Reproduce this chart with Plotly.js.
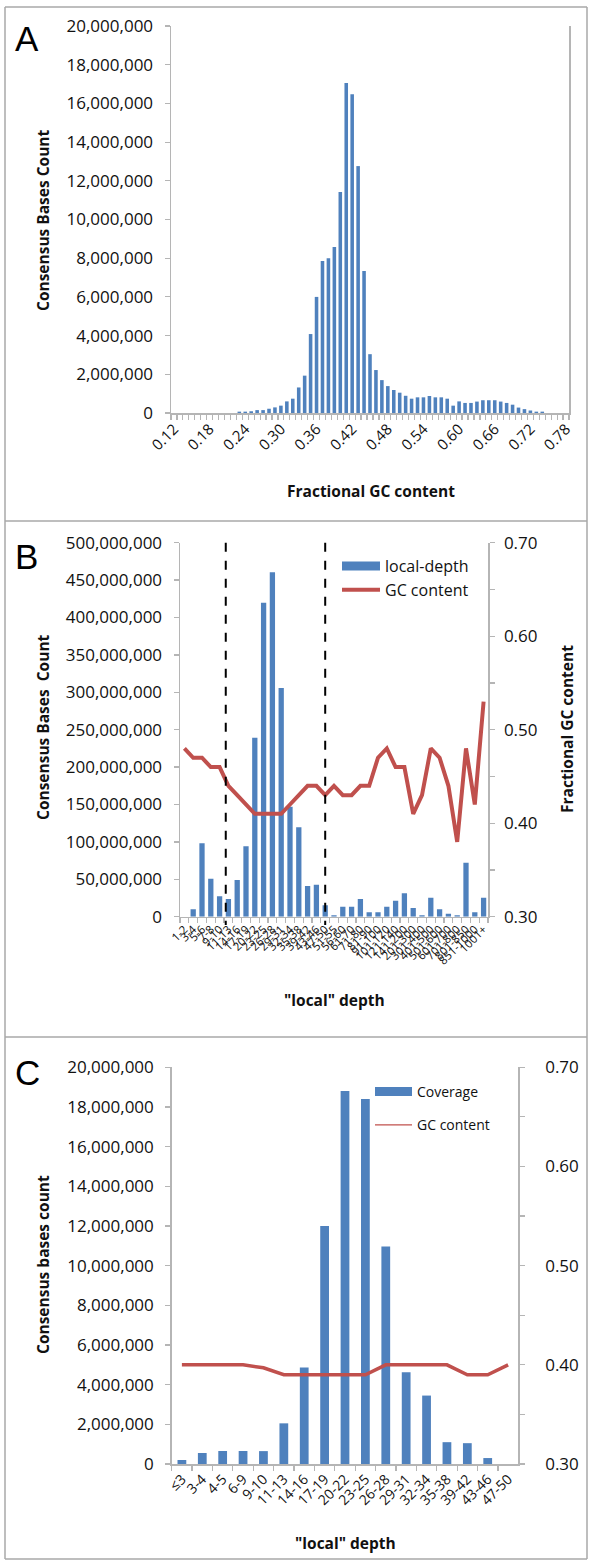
<!DOCTYPE html>
<html>
<head>
<meta charset="utf-8">
<script src="https://cdn.plot.ly/plotly-3.0.1.min.js"></script>
<style>
  html, body { margin: 0; padding: 0; background: #ffffff; }
  #chart { width: 590px; height: 1564px; }
</style>
</head>
<body>
<div id="chart"></div>
<script>
// ---- Panel A: consensus bases per fractional GC bin ----
const gcBins = ['0.12','0.13','0.14','0.15','0.16','0.17','0.18','0.19','0.20','0.21',
  '0.22','0.23','0.24','0.25','0.26','0.27','0.28','0.29','0.30','0.31',
  '0.32','0.33','0.34','0.35','0.36','0.37','0.38','0.39','0.40','0.41',
  '0.42','0.43','0.44','0.45','0.46','0.47','0.48','0.49','0.50','0.51',
  '0.52','0.53','0.54','0.55','0.56','0.57','0.58','0.59','0.60','0.61',
  '0.62','0.63','0.64','0.65','0.66','0.67','0.68','0.69','0.70','0.71',
  '0.72','0.73','0.74','0.75','0.76','0.77','0.78'];
const gcBaseCounts = [0,0,0,0,0,0,0,0,0,0,
  0,70000,70000,90000,150000,150000,220000,290000,380000,600000,
  740000,1320000,1930000,4080000,6000000,7860000,8000000,8580000,11420000,17060000,
  16470000,12760000,7340000,3040000,2220000,1700000,1390000,1190000,1050000,890000,
  740000,810000,810000,880000,810000,810000,740000,380000,600000,520000,
  520000,590000,660000,660000,660000,590000,520000,430000,280000,200000,
  130000,70000,70000,0,0,0,0];

// ---- Panel B: "local" depth bins with GC content ----
const depthBins = ['1-2','3-4','5-6','7-8','9-10','11-13','14-16','17-19','20-22','23-25',
  '26-28','29-31','32-34','35-38','39-42','43-46','47-50','51-55','56-60','61-70',
  '71-80','81-90','91-100','101-120','121-140','141-200','201-300','301-400','401-500','501-600',
  '601-700','701-800','801-850','851-1000','1001+'];
const depthBaseCounts = [0,9900000,98100000,50800000,27200000,23700000,49100000,94100000,239300000,419800000,
  460400000,305700000,147000000,119500000,41000000,42800000,15200000,1800000,13400000,13400000,
  23700000,5800000,5800000,13400000,21400000,31300000,11600000,1800000,25400000,9900000,
  4000000,1800000,72200000,5800000,25400000];
const depthGC = [0.48,0.47,0.47,0.46,0.46,0.44,0.43,0.42,0.41,0.41,
  0.41,0.41,0.42,0.43,0.44,0.44,0.43,0.44,0.43,0.43,
  0.44,0.44,0.47,0.48,0.46,0.46,0.41,0.43,0.48,0.47,
  0.44,0.38,0.48,0.42,0.53];

// ---- Panel C: coverage bins with GC content ----
const coverageBins = ['\u22643','3-4','4-5','6-9','9-10','11-13','14-16','17-19','20-22','23-25',
  '26-28','29-31','32-34','35-38','39-42','43-46','47-50'];
const coverageBaseCounts = [200000,550000,650000,650000,650000,2050000,4860000,12000000,18800000,18400000,
  10970000,4630000,3450000,1100000,1050000,300000,0];
const coverageGC = [0.40,0.40,0.40,0.40,0.397,0.39,0.39,0.39,0.39,0.39,
  0.40,0.40,0.40,0.40,0.39,0.39,0.40];

const gcTickLabels = ['0.30','','0.40','','0.50','','0.60','','0.70'];
const gcTickValues = [0.30,0.35,0.40,0.45,0.50,0.55,0.60,0.65,0.70];

// ---- styling ----
const W = 590, H = 1564;
const fx = px => px / W;
const fy = py => 1 - py / H;
const BLUE = '#4F81BD';
const RED = '#C0504D';
const AXIS = '#b5b5b5';
const FONT = 'Open Sans, sans-serif';
const TXT = '#111111';

// dashed guides in panel B, in category units
const guideA = 4.7, guideB = 16.0;

function catAxis(domain, anchor, size, cats, labels) {
  return {
    domain: domain, anchor: anchor, type: 'category',
    tickmode: 'array', tickvals: cats, ticktext: labels || cats,
    range: [-0.5, cats.length - 0.5],
    showline: true, linecolor: AXIS, linewidth: 1.5,
    ticks: 'outside', ticklen: 5, tickwidth: 1.2, tickcolor: AXIS,
    tickson: 'boundaries', tickangle: -45,
    tickfont: {family: FONT, size: size, color: TXT},
    showgrid: false, zeroline: false, fixedrange: true
  };
}
function valAxis(domain, anchor, range, dtick, extra) {
  return Object.assign({
    domain: domain, anchor: anchor, range: range, dtick: dtick, tick0: 0,
    tickformat: ',d',
    showline: true, linecolor: AXIS, linewidth: 1.5,
    ticks: 'outside', ticklen: 5, tickwidth: 1.2, tickcolor: AXIS,
    ticklabelstandoff: 8,
    tickfont: {family: FONT, size: 17, color: TXT},
    showgrid: false, zeroline: false, fixedrange: true
  }, extra || {});
}
function gcAxis(domain, anchor, overlay, standoff) {
  return {
    domain: domain, anchor: anchor, overlaying: overlay, side: 'right',
    range: [0.3, 0.7], tickmode: 'array', tickvals: gcTickValues, ticktext: gcTickLabels,
    showline: true, linecolor: AXIS, linewidth: 1.5,
    ticks: 'outside', ticklen: 5, tickwidth: 1.2, tickcolor: AXIS,
    ticklabelstandoff: standoff,
    tickfont: {family: FONT, size: 17, color: TXT},
    showgrid: false, zeroline: false, fixedrange: true
  };
}

const traces = [
  // A
  {type: 'bar', x: gcBins, y: gcBaseCounts, xaxis: 'x', yaxis: 'y',
   width: 0.6, marker: {color: BLUE}, showlegend: false, hoverinfo: 'x+y'},
  // B
  {type: 'bar', x: depthBins, y: depthBaseCounts, xaxis: 'x2', yaxis: 'y2',
   width: 0.6, marker: {color: BLUE}, showlegend: false, hoverinfo: 'x+y'},
  {type: 'scatter', mode: 'lines', x: [null], y: [null], xaxis: 'x2', yaxis: 'y2',
   name: 'local-depth', line: {color: BLUE, width: 9}, legend: 'legend', hoverinfo: 'skip'},
  {type: 'scatter', mode: 'lines', x: depthBins, y: depthGC, xaxis: 'x2', yaxis: 'y3',
   name: 'GC content', line: {color: RED, width: 4}, legend: 'legend'},
  // C
  {type: 'bar', x: coverageBins, y: coverageBaseCounts, xaxis: 'x3', yaxis: 'y4',
   width: 0.43, marker: {color: BLUE}, showlegend: false, hoverinfo: 'x+y'},
  {type: 'scatter', mode: 'lines', x: [null], y: [null], xaxis: 'x3', yaxis: 'y4',
   name: 'Coverage', line: {color: BLUE, width: 9}, legend: 'legend2', legendgroup: 'c1', hoverinfo: 'skip'},
  {type: 'scatter', mode: 'lines', x: coverageBins, y: coverageGC, xaxis: 'x3', yaxis: 'y5',
   line: {color: RED, width: 3.5}, showlegend: false},
  {type: 'scatter', mode: 'lines', x: [null], y: [null], xaxis: 'x3', yaxis: 'y5',
   name: 'GC content', line: {color: RED, width: 1.2}, legend: 'legend2', legendgroup: 'c2', hoverinfo: 'skip'}
];

const gcLabelsEvery6 = gcBins.map((b, i) => (i % 6 === 0 ? b : ''));

const titleFont = {family: FONT, size: 15.5, color: TXT, weight: 'bold'};
function ann(text, x, y, extra) {
  return Object.assign({text: text, xref: 'paper', yref: 'paper', x: fx(x), y: fy(y),
    xanchor: 'center', yanchor: 'middle', showarrow: false, font: titleFont}, extra || {});
}
function letter(t, y) {
  return {text: t, xref: 'paper', yref: 'paper', x: fx(13), y: fy(y), xanchor: 'left', yanchor: 'middle',
    showarrow: false, font: {family: 'Liberation Sans, Arial, sans-serif', size: 35, color: '#000'}};
}
function hline(y, x0, x1) {
  return {type: 'line', xref: 'paper', yref: 'paper', x0: fx(x0), x1: fx(x1), y0: fy(y), y1: fy(y),
    line: {color: '#a8a8a8', width: 1.5}};
}
function vline(x, y0, y1) {
  return {type: 'line', xref: 'paper', yref: 'paper', x0: fx(x), x1: fx(x), y0: fy(y0), y1: fy(y1),
    line: {color: '#a8a8a8', width: 1.5}};
}
function guide(pos) {
  return {type: 'line', xref: 'x2', yref: 'paper', x0: pos, x1: pos, y0: fy(542.7), y1: fy(925),
    line: {color: '#000', width: 2, dash: 'dash'}, layer: 'above'};
}

const layout = {
  width: W, height: H,
  margin: {l: 0, r: 0, t: 0, b: 0},
  paper_bgcolor: '#fff', plot_bgcolor: 'rgba(0,0,0,0)',
  font: {family: FONT, color: TXT},
  showlegend: true,
  xaxis: catAxis([fx(171), fx(569)], 'y', 15, gcBins, gcLabelsEvery6),
  yaxis: valAxis([fy(413), fy(26)], 'x', [0, 20000000], 2000000, {mirror: true}),
  xaxis2: catAxis([fx(180), fx(488)], 'y2', 11.5, depthBins),
  yaxis2: valAxis([fy(916.7), fy(542.7)], 'x2', [0, 500000000], 50000000),
  yaxis3: gcAxis([fy(916.7), fy(542.7)], 'x2', 'y2', 6),
  xaxis3: catAxis([fx(171.7), fx(518.3)], 'y4', 14, coverageBins),
  yaxis4: valAxis([fy(1464), fy(1067.3)], 'x3', [0, 20000000], 2000000),
  yaxis5: gcAxis([fy(1464), fy(1067.3)], 'x3', 'y4', 17),
  legend: {x: fx(337), y: fy(549), xanchor: 'left', yanchor: 'top', bgcolor: 'rgba(0,0,0,0)',
    itemwidth: 38, font: {family: FONT, size: 16, color: TXT}, traceorder: 'normal'},
  legend2: {x: fx(370), y: fy(1076), xanchor: 'left', yanchor: 'top', bgcolor: 'rgba(0,0,0,0)',
    itemwidth: 37, font: {family: FONT, size: 14, color: TXT}, traceorder: 'grouped', tracegroupgap: 12},
  annotations: [
    letter('A', 38),
    letter('B', 556),
    letter('C', 1072),
    ann('Consensus Bases Count', 43, 220, {textangle: -90}),
    ann('Fractional GC content', 371, 491),
    ann('Consensus Bases  Count', 43, 727, {textangle: -90}),
    ann('Fractional GC content', 567, 729, {textangle: -90}),
    ann('"local" depth', 334, 1000),
    ann('Consensus bases count', 43, 1265, {textangle: -90}),
    ann('"local" depth', 345, 1543)
  ],
  shapes: [
    hline(7, 5, 587), hline(521, 5, 587), hline(1037, 5, 587), hline(1559, 5, 587),
    vline(5, 7, 1559), vline(587, 7, 1559),
    guide(guideA), guide(guideB)
  ]
};

Plotly.newPlot('chart', traces, layout, {displayModeBar: false, staticPlot: true});
</script>
</body>
</html>
